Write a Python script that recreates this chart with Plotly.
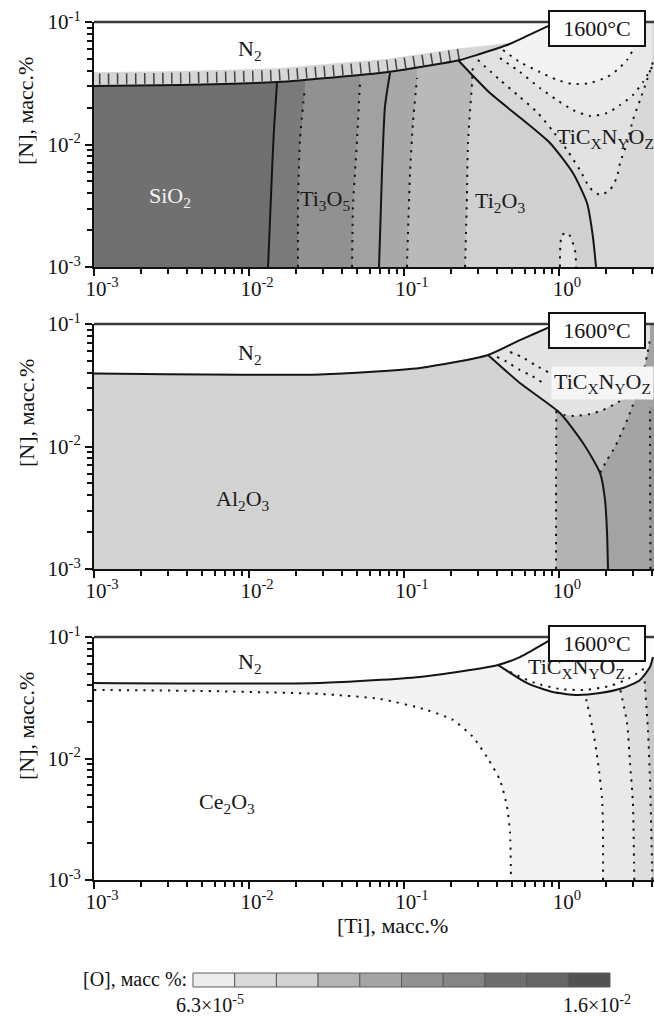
import plotly.graph_objects as go

W, H = 654, 1017
FONT = "Liberation Serif"

# axis ranges in log10 units
LT_RANGE = [-3.0, 0.613]   # log10 [Ti]
LN_RANGE = [-3.0, -1.0]    # log10 [N]
LO, HI, LEFT, RIGHT = -3.2, -0.8, -3.2, 0.8   # polygon overshoot, clipped by the subplot

# ---------------- panel 1: SiO2 / Ti oxides ----------------
P1_N2_LT = [-3.0, -2.445, -1.819, -1.103, -0.639, -0.510, -0.335, -0.206, -0.071, -0.019]
P1_N2_LN = [-1.522, -1.514, -1.490, -1.408, -1.310, -1.261, -1.188, -1.114, -1.033, -1.0]
P1_BAND_LT = [-3.0, -2.445, -1.819, -1.103, -0.639, -0.45, -0.30]
P1_BAND_LN = [-1.41, -1.40, -1.378, -1.30, -1.215, -1.19, -1.165]

P1_S1_LT = [-1.877, -1.852, -1.839, -1.819]
P1_S1_LN = [-3.0, -2.233, -1.882, -1.490]
P1_D1_LT = [-1.684, -1.684, -1.671, -1.639]
P1_D1_LN = [-3.0, -2.510, -1.963, -1.531]
P1_D2_LT = [-1.335, -1.329, -1.303, -1.284]
P1_D2_LN = [-3.0, -2.510, -1.963, -1.498]
P1_S2_LT = [-1.161, -1.142, -1.123, -1.090]
P1_S2_LN = [-3.0, -2.233, -1.694, -1.416]
P1_D3_LT = [-0.981, -0.961, -0.942, -0.916]
P1_D3_LN = [-3.0, -2.233, -1.824, -1.457]
P1_D4_LT = [-0.606, -0.594, -0.587, -0.561, -0.556]
P1_D4_LN = [-3.0, -2.429, -1.988, -1.498, -1.36]
P1_S3_LT = [0.239, 0.219, 0.181, 0.090, -0.058, -0.232, -0.445, -0.652]
P1_S3_LN = [-3.0, -2.755, -2.478, -2.233, -1.988, -1.800, -1.580, -1.310]

P1_U1_LT = [-0.523, -0.381, -0.252, -0.142, -0.045, 0.052, 0.135, 0.200, 0.265,
            0.329, 0.374, 0.394, 0.439, 0.477, 0.523, 0.568, 0.606]
P1_U1_LN = [-1.310, -1.473, -1.612, -1.735, -1.882, -2.045, -2.208, -2.355, -2.412,
            -2.371, -2.265, -2.151, -1.988, -1.800, -1.637, -1.473, -1.327]
P1_U2_LT = [-0.381, -0.252, -0.123, -0.013, 0.090, 0.200, 0.310, 0.394, 0.477, 0.542, 0.600]
P1_U2_LN = [-1.294, -1.408, -1.539, -1.637, -1.718, -1.767, -1.743, -1.678, -1.596, -1.490, -1.367]
P1_U3_LT = [-0.361, -0.252, -0.123, -0.013, 0.090, 0.200, 0.310, 0.374, 0.439, 0.477]
P1_U3_LN = [-1.229, -1.327, -1.408, -1.473, -1.506, -1.498, -1.449, -1.392, -1.310, -1.229]
P1_LOOP_LT = [0.006, 0.019, 0.058, 0.103, 0.110]
P1_LOOP_LN = [-3.0, -2.739, -2.722, -2.861, -3.0]

# ---------------- panel 2: Al2O3 ----------------
P2_N2_LT = [-3.0, -1.542, -0.897, -0.458, -0.252, -0.058, -0.019]
P2_N2_LN = [-1.405, -1.412, -1.359, -1.253, -1.131, -1.024, -1.0]
P2_S_LT = [-0.458, -0.252, 0.006, 0.155, 0.265, 0.297, 0.310, 0.316]
P2_S_LN = [-1.253, -1.482, -1.727, -1.971, -2.216, -2.437, -2.706, -3.0]
P2_D1_LT = [-0.019, -0.019, -0.017]
P2_D1_LN = [-3.0, -2.30, -1.705]
P2_DIAG_LT = [0.265, 0.310, 0.361, 0.406, 0.445, 0.477, 0.510, 0.542, 0.568, 0.587]
P2_DIAG_LN = [-2.216, -2.110, -2.004, -1.882, -1.767, -1.661, -1.555, -1.416, -1.253, -1.131]
P2_U_LT = [-0.017, 0.039, 0.103, 0.200, 0.284, 0.361, 0.432, 0.500]
P2_U_LN = [-1.705, -1.743, -1.751, -1.735, -1.702, -1.653, -1.604, -1.59]
P2_D3_LT = [0.590, 0.588, 0.587]
P2_D3_LN = [-3.0, -2.30, -1.68]
P2_WA_LT = [-0.400, -0.335, -0.252, -0.174, -0.103]
P2_WA_LN = [-1.269, -1.310, -1.376, -1.424, -1.482]
P2_WB_LT = [-0.316, -0.239, -0.155, -0.071]
P2_WB_LN = [-1.229, -1.269, -1.335, -1.392]

# ---------------- panel 3: Ce2O3 ----------------
P3_N2_LT = [-3.0, -1.542, -0.897, -0.574, -0.394, -0.252, -0.058, -0.019]
P3_N2_LN = [-1.379, -1.379, -1.329, -1.272, -1.230, -1.165, -1.025, -1.0]
P3_LENS_LT = [-0.394, -0.206, -0.039, 0.116, 0.265, 0.413, 0.523, 0.587, 0.606]
P3_LENS_LN = [-1.230, -1.379, -1.453, -1.477, -1.461, -1.420, -1.354, -1.247, -1.165]
P3_D1_LT = [-3.0, -2.316, -1.542, -1.155, -0.852, -0.684, -0.555, -0.465, -0.381, -0.335, -0.316, -0.310]
P3_D1_LN = [-1.436, -1.444, -1.469, -1.510, -1.601, -1.683, -1.823, -1.988, -2.177, -2.399, -2.613, -3.0]
P3_D2_LT = [0.284, 0.284, 0.277, 0.252, 0.219, 0.187, 0.168]
P3_D2_LN = [-3.0, -2.588, -2.317, -2.037, -1.765, -1.576, -1.474]
P3_D3_LT = [0.486, 0.484, 0.477, 0.458, 0.439, 0.394]
P3_D3_LN = [-3.0, -2.860, -2.366, -2.037, -1.708, -1.425]
P3_D4_LT = [0.602, 0.600, 0.587, 0.574, 0.550]
P3_D4_LN = [-3.0, -2.860, -2.177, -1.765, -1.32]
P3_IN_LT = [-0.316, -0.155, 0.006, 0.168, 0.329, 0.458, 0.555]
P3_IN_LN = [-1.288, -1.379, -1.428, -1.436, -1.403, -1.337, -1.255]

# [O] level scale
CB_COLORS = ["#ececec", "#dadada", "#d2d2d2", "#b4b4b4", "#a4a4a4",
             "#919191", "#858585", "#6e6e6e", "#666666", "#525252"]
CB_MIN_TEXT = "6.3×10<sup>-5</sup>"
CB_MAX_TEXT = "1.6×10<sup>-2</sup>"

X_TICKS = [1e-3, 1e-2, 1e-1, 1.0]
X_TICKTEXT = ["10<sup>-3</sup>", "10<sup>-2</sup>", "10<sup>-1</sup>", "10<sup>0</sup>"]
Y_TICKS = [1e-3, 1e-2, 1e-1]
Y_TICKTEXT = ["10<sup>-3</sup>", "10<sup>-2</sup>", "10<sup>-1</sup>"]
X_MINOR = [m * 10.0 ** e for e in range(-3, 1) for m in range(2, 10)]
Y_MINOR = [m * 10.0 ** e for e in range(-3, -1) for m in range(2, 10)]

fig = go.Figure()


def to_xy(lt, ln):
    return [10 ** v for v in lt], [10 ** v for v in ln]


def area(lt, ln, color, ax):
    x, y = to_xy(lt, ln)
    fig.add_trace(go.Scatter(x=x, y=y, mode="lines", fill="toself", fillcolor=color,
                             line=dict(width=0), hoverinfo="skip", showlegend=False,
                             xaxis="x" + ax, yaxis="y" + ax))


def curve(lt, ln, ax, dotted=False, width=2.0, color="#151515", dash=None):
    x, y = to_xy(lt, ln)
    if dash is None:
        dash = "2.2px,6px" if dotted else "solid"
    fig.add_trace(go.Scatter(x=x, y=y, mode="lines",
                             line=dict(color=color, width=width, dash=dash,
                                       shape="spline", smoothing=0.6),
                             hoverinfo="skip", showlegend=False,
                             xaxis="x" + ax, yaxis="y" + ax))


def layer(lt, ln):
    """Region to the right of a boundary line given bottom -> top."""
    return [lt[0]] + lt + [lt[-1], RIGHT, RIGHT], [LO] + ln + [HI, HI, LO]


def cap(lt, ln):
    """Region above an arc, closed through the top edge."""
    return lt + [lt[-1], lt[0]], ln + [HI, HI]


def n2_cover(lt, ln):
    return lt + [lt[-1], LEFT, LEFT], ln + [HI, HI, ln[0]]


FULL = ([LEFT, RIGHT, RIGHT, LEFT], [LO, LO, HI, HI])

# ---------- panel 1 ----------
a = ""
area(*FULL, "#707070", a)
area(*layer(P1_S1_LT, P1_S1_LN), "#7a7a7a", a)
area(*layer(P1_D1_LT, P1_D1_LN), "#919191", a)
area(*layer(P1_D2_LT, P1_D2_LN), "#a1a1a1", a)
area(*layer(P1_S2_LT, P1_S2_LN), "#a8a8a8", a)
area(*layer(P1_D3_LT, P1_D3_LN), "#b9b9b9", a)
area(*layer(P1_D4_LT, P1_D4_LN), "#d0d0d0", a)
area(*layer(P1_S3_LT, P1_S3_LN), "#d8d8d8", a)
area(*cap(P1_U1_LT, P1_U1_LN), "#e1e1e1", a)
area(*cap(P1_U2_LT, P1_U2_LN), "#e9e9e9", a)
area(*cap(P1_U3_LT, P1_U3_LN), "#f3f3f3", a)
area(P1_LOOP_LT, P1_LOOP_LN, "#e1e1e1", a)
area(*n2_cover(P1_N2_LT, P1_N2_LN), "white", a)

# hatched band above the N2 boundary
low_lt = [v for v in P1_N2_LT if v < P1_BAND_LT[-1]]
low_ln = P1_N2_LN[:len(low_lt)]
band_lt = [LEFT] + P1_BAND_LT + low_lt[::-1] + [LEFT]
band_ln = [P1_BAND_LN[0]] + P1_BAND_LN + low_ln[::-1] + [P1_N2_LN[0]]
area(band_lt, band_ln, "#d6d6d6", a)
mid_lt = [LEFT] + P1_BAND_LT[:5]
mid_ln = [(P1_BAND_LN[0] + P1_N2_LN[0]) / 2] + [
    (P1_BAND_LN[i] + P1_N2_LN[i]) / 2 for i in range(5)]
curve(mid_lt, mid_ln, a, width=11, color="#444444", dash="1.5px,7.5px")

curve(P1_N2_LT, P1_N2_LN, a)
for lt, ln in [(P1_S1_LT, P1_S1_LN), (P1_S2_LT, P1_S2_LN), (P1_S3_LT, P1_S3_LN)]:
    curve(lt, ln, a)
for lt, ln in [(P1_D1_LT, P1_D1_LN), (P1_D2_LT, P1_D2_LN), (P1_D3_LT, P1_D3_LN),
               (P1_D4_LT, P1_D4_LN), (P1_U1_LT, P1_U1_LN), (P1_U2_LT, P1_U2_LN),
               (P1_U3_LT, P1_U3_LN), (P1_LOOP_LT, P1_LOOP_LN)]:
    curve(lt, ln, a, dotted=True)

# ---------- panel 2 ----------
a = "2"
area(*FULL, "#d3d3d3", a)
# between the dotted iso-line and the phase boundary
k = [i for i, v in enumerate(P2_S_LT) if v > P2_D1_LT[-1]]
area([P2_D1_LT[0]] + P2_D1_LT + [P2_S_LT[i] for i in k] + [P2_S_LT[-1]],
     [LO] + P2_D1_LN + [P2_S_LN[i] for i in k] + [LO], "#b3b3b3", a)
# TiCxNyOz field
area(P2_S_LT + [P2_S_LT[-1], RIGHT, RIGHT, P2_S_LT[0]],
     P2_S_LN + [LO, LO, HI, HI], "#a3a3a3", a)
j = P2_S_LT.index(P2_DIAG_LT[0])
area(P2_S_LT[:j] + P2_DIAG_LT + [P2_DIAG_LT[-1], P2_S_LT[0]],
     P2_S_LN[:j] + P2_DIAG_LN + [HI, HI], "#bcbcbc", a)
m = [i for i, v in enumerate(P2_DIAG_LT) if v > P2_U_LT[-1]]
area(P2_S_LT[:2] + P2_U_LT + [P2_DIAG_LT[i] for i in m] + [P2_DIAG_LT[-1], P2_S_LT[0]],
     P2_S_LN[:2] + P2_U_LN + [P2_DIAG_LN[i] for i in m] + [HI, HI], "#e3e3e3", a)
area([P2_D3_LT[0]] + P2_D3_LT + [RIGHT, RIGHT], [LO] + P2_D3_LN + [P2_D3_LN[-1], LO],
     "#979797", a)
area(*n2_cover(P2_N2_LT, P2_N2_LN), "white", a)

curve(P2_N2_LT, P2_N2_LN, a)
curve(P2_S_LT, P2_S_LN, a)
for lt, ln in [(P2_D1_LT, P2_D1_LN), (P2_DIAG_LT, P2_DIAG_LN), (P2_U_LT, P2_U_LN),
               (P2_D3_LT, P2_D3_LN), (P2_WA_LT, P2_WA_LN), (P2_WB_LT, P2_WB_LN)]:
    curve(lt, ln, a, dotted=True)

# ---------- panel 3 ----------
a = "3"
area(*FULL, "white", a)
area(P3_D1_LT + [P3_D1_LT[-1], RIGHT, RIGHT, LEFT, LEFT],
     P3_D1_LN + [LO, LO, HI, HI, P3_D1_LN[0]], "#f3f3f3", a)
area(*layer(P3_D2_LT, P3_D2_LN), "#e9e9e9", a)
area(*layer(P3_D3_LT, P3_D3_LN), "#dedede", a)
area(*layer(P3_D4_LT, P3_D4_LN), "#c9c9c9", a)
jn = P3_N2_LT.index(P3_LENS_LT[0])
area(P3_N2_LT[jn:] + [P3_N2_LT[-1], RIGHT, RIGHT] + P3_LENS_LT[::-1],
     P3_N2_LN[jn:] + [HI, HI, P3_LENS_LN[-1]] + P3_LENS_LN[::-1], "#fbfbfb", a)
area(*n2_cover(P3_N2_LT, P3_N2_LN), "white", a)

curve(P3_N2_LT, P3_N2_LN, a)
curve(P3_LENS_LT, P3_LENS_LN, a)
for lt, ln in [(P3_D1_LT, P3_D1_LN), (P3_D2_LT, P3_D2_LN), (P3_D3_LT, P3_D3_LN),
               (P3_D4_LT, P3_D4_LN), (P3_IN_LT, P3_IN_LN)]:
    curve(lt, ln, a, dotted=True)

# ---------- axes ----------
PANELS = [("", 22, 267), ("2", 324, 569), ("3", 637, 880)]
tick_font = dict(family=FONT, size=21, color="#111")
shapes, annotations = [], []


def px(x):
    return x / W


def py(y):
    return 1 - y / H


def paper_text(text, x, y, size=22, **kw):
    d = dict(text=text, xref="paper", yref="paper", x=px(x), y=py(y),
             xanchor="center", yanchor="middle", showarrow=False,
             font=dict(family=FONT, size=size, color="#111"))
    d.update(kw)
    return d


for a, top, bot in PANELS:
    fig.layout["xaxis" + a] = dict(
        type="log", range=LT_RANGE, domain=[94 / W, 1], anchor="y" + a,
        showline=True, linecolor="#111", linewidth=2, mirror=False,
        ticks="outside", ticklen=7, tickwidth=2, tickcolor="#111",
        tickmode="array", tickvals=X_TICKS, ticktext=X_TICKTEXT, tickfont=tick_font,
        ticklabelshift=8, ticklabelstandoff=-5, automargin=False,
        minor=dict(tickmode="array", tickvals=X_MINOR, ticks="outside", ticklen=5,
                   tickwidth=1.5, tickcolor="#111", showgrid=False),
        showgrid=False, zeroline=False, fixedrange=True)
    fig.layout["yaxis" + a] = dict(
        type="log", range=LN_RANGE, domain=[py(bot), py(top)], anchor="x" + a,
        showline=True, linecolor="#111", linewidth=2, automargin=False,
        ticks="outside", ticklen=7, tickwidth=2, tickcolor="#111",
        tickmode="array", tickvals=Y_TICKS, ticktext=Y_TICKTEXT, tickfont=tick_font,
        minor=dict(tickmode="array", tickvals=Y_MINOR, ticks="outside", ticklen=5,
                   tickwidth=1.5, tickcolor="#111", showgrid=False),
        showgrid=False, zeroline=False, fixedrange=True)
    # top frame line
    shapes.append(dict(type="line", xref="x" + a + " domain", yref="y" + a + " domain",
                       x0=0, x1=1, y0=1, y1=1, line=dict(color="#3a3a3a", width=2.5)))
    # temperature box
    annotations.append(paper_text("1600°C", 597, top + 6, bgcolor="white",
                                  bordercolor="#111", borderwidth=2, borderpad=1,
                                  width=92, height=31))
    # y title
    annotations.append(paper_text("[N], масс.%", 26, top + 89, textangle=-90))

LABELS = [
    ("", "N<sub>2</sub>", -1.994, -1.229, "#1a1a1a", None),
    ("", "SiO<sub>2</sub>", -2.510, -2.429, "#f4f4f4", None),
    ("", "Ti<sub>3</sub>O<sub>5</sub>", -1.510, -2.453, "#1a1a1a", None),
    ("", "Ti<sub>2</sub>O<sub>3</sub>", -0.381, -2.469, "#1a1a1a", None),
    ("", "TiC<sub>X</sub>N<sub>Y</sub>O<sub>Z</sub>", 0.300, -1.947, "#1a1a1a", None),
    ("2", "N<sub>2</sub>", -1.994, -1.245, "#1a1a1a", None),
    ("2", "Al<sub>2</sub>O<sub>3</sub>", -2.039, -2.437, "#1a1a1a", None),
    ("2", "TiC<sub>X</sub>N<sub>Y</sub>O<sub>Z</sub>", 0.280, -1.482, "#1a1a1a", "#f6f6f6"),
    ("3", "N<sub>2</sub>", -1.994, -1.214, "#1a1a1a", None),
    ("3", "Ce<sub>2</sub>O<sub>3</sub>", -2.142, -2.366, "#1a1a1a", None),
    ("3", "TiC<sub>X</sub>N<sub>Y</sub>O<sub>Z</sub>", 0.116, -1.255, "#1a1a1a", None),
]
for a, txt, lx, ly, col, bg in LABELS:
    ann = dict(text=txt, xref="x" + a, yref="y" + a, x=lx, y=ly, showarrow=False,
               xanchor="center", yanchor="middle",
               font=dict(family=FONT, size=22, color=col))
    if bg:
        ann.update(bgcolor=bg, borderpad=2)
    annotations.append(ann)

annotations.append(paper_text("[Ti], масс.%", 393, 925))

# [O] scale strip
cb_x0, cb_x1, cb_y0, cb_y1 = 193, 610, 973, 987
step = (cb_x1 - cb_x0) / len(CB_COLORS)
for i, c in enumerate(CB_COLORS):
    shapes.append(dict(type="rect", xref="paper", yref="paper",
                       x0=px(cb_x0 + i * step), x1=px(cb_x0 + (i + 1) * step),
                       y0=py(cb_y1), y1=py(cb_y0), fillcolor=c,
                       line=dict(color="#5a5a5a", width=1)))
annotations.append(paper_text("[O], масс %:", 189, 979, size=20, xanchor="right"))
annotations.append(paper_text(CB_MIN_TEXT, 210, 1004, size=20))
annotations.append(paper_text(CB_MAX_TEXT, 597, 1004, size=20))

fig.update_layout(width=W, height=H,
                  margin=dict(l=0, r=0, t=0, b=0, autoexpand=False),
                  paper_bgcolor="white", plot_bgcolor="white",
                  showlegend=False, shapes=shapes, annotations=annotations)
fig.write_html("out.html")
